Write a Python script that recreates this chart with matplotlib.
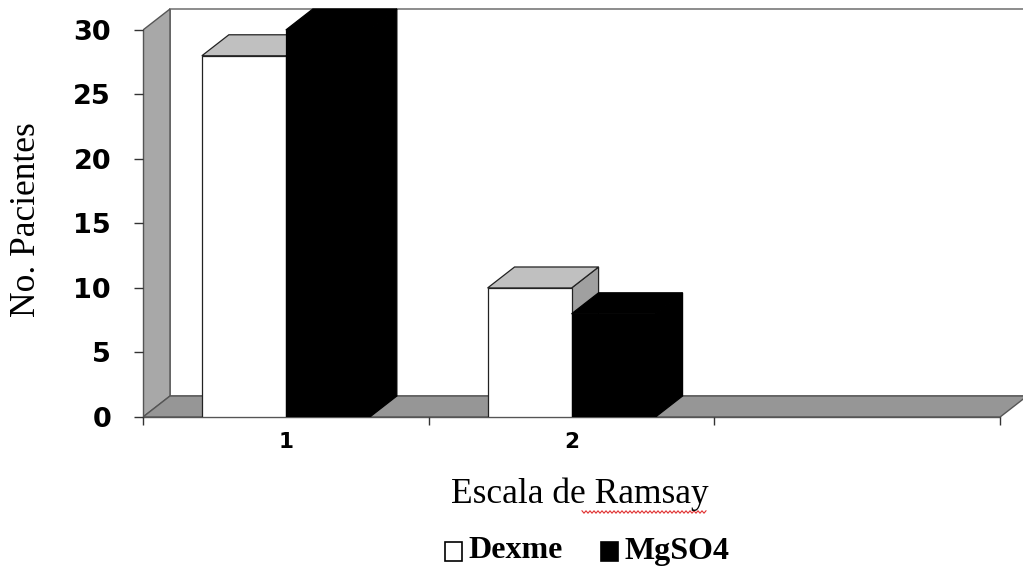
import numpy as np
import matplotlib
matplotlib.use("Agg")
import matplotlib.pyplot as plt
from matplotlib.patches import Polygon, Rectangle
from matplotlib.lines import Line2D
from matplotlib.legend_handler import HandlerPatch

# Patients per Ramsay sedation score, by drug
categories = ["1", "2", ""]
dexme = [28, 10, np.nan]
mgso4 = [32, 8, np.nan]
series_names = ["Dexme", "MgSO4"]
y_ticks = [0, 5, 10, 15, 20, 25, 30]

Y_MAX = 30
TICK_FONT = "DejaVu Sans"
SERIF = "Liberation Serif"

WALL = "#a8a8a8"
FLOOR = "#969696"
FRAME = "#555555"
TOP_LIGHT = "#c0c0c0"
SIDE_LIGHT = "#a0a0a0"

fig = plt.figure(figsize=(10.23, 5.67), dpi=100)
ax = fig.add_axes([143 / 1023, 150 / 567, 885.7 / 1023, 415.4 / 567])
n = len(categories)
ax.set_xlim(0, n + 0.1)
ax.set_ylim(0, 32.2)
ax.patch.set_visible(False)

# oblique depth of the 3-D box, 27 px right and 21 px up, expressed in data units
ox, oy = ax.transData.transform((0, 0))
DX, DY = ax.transData.inverted().transform((ox + 27, oy + 21))


def poly(pts, face, edge, z, lw=1.0):
    ax.add_patch(Polygon(pts, closed=True, facecolor=face, edgecolor=edge,
                         linewidth=lw, zorder=z, joinstyle="miter"))


# back wall, side wall and floor
poly([(DX, DY), (n + DX, DY), (n + DX, Y_MAX + DY), (DX, Y_MAX + DY)],
     "white", "#8c8c8c", 0.5, lw=1.4)
poly([(0, 0), (DX, DY), (DX, Y_MAX + DY), (0, Y_MAX)], WALL, FRAME, 0.6)
poly([(0, 0), (n, 0), (n + DX, DY), (DX, DY)], FLOOR, FRAME, 0.7)

bar_w = 0.294
series = [
    (dexme, "white", TOP_LIGHT, SIDE_LIGHT, "#222222"),
    (mgso4, "black", "black", "black", "black"),
]

z = 1.0
for i in range(n):
    center = i + 0.5
    for k, (vals, front, top, side, edge) in enumerate(series):
        v = vals[i]
        if np.isnan(v):
            continue
        h = min(v, Y_MAX)
        x0 = center - bar_w + k * bar_w
        x1 = x0 + bar_w
        poly([(x1, 0), (x1 + DX, DY), (x1 + DX, h + DY), (x1, h)], side, edge, z, lw=0.9)
        poly([(x0, h), (x1, h), (x1 + DX, h + DY), (x0 + DX, h + DY)], top, edge, z + 0.01, lw=0.9)
        ax.bar(x0, h, width=bar_w, align="edge", color=front, edgecolor=edge,
               linewidth=0.9, zorder=z + 0.02)
        z += 0.1

# axes
for s in ("top", "right"):
    ax.spines[s].set_visible(False)
ax.spines["left"].set_bounds(0, Y_MAX)
ax.spines["bottom"].set_bounds(0, n)
for s in ("left", "bottom"):
    ax.spines[s].set_color(FRAME)
    ax.spines[s].set_linewidth(1.0)
    ax.spines[s].set_zorder(0.8)

ax.set_yticks(y_ticks)
ax.set_yticklabels([str(t) for t in y_ticks], fontfamily=TICK_FONT, fontweight="bold", fontsize=19.5)
ax.tick_params(axis="y", direction="out", length=6.5, width=1, color="#333333", pad=16.5)

ax.set_xticks(range(n + 1))
ax.set_xticklabels([])
ax.tick_params(axis="x", which="major", direction="out", length=6, width=1, color="#333333")
ax.set_xticks([i + 0.5 for i in range(n)], minor=True)
ax.set_xticklabels(categories, minor=True, fontfamily=TICK_FONT, fontweight="bold", fontsize=15.5)
ax.tick_params(axis="x", which="minor", length=0, pad=11)

fig.text(27 / 1023, 1 - 220 / 567, "No. Pacientes", rotation=90, ha="center", va="center",
         fontfamily=SERIF, fontsize=25.5)
fig.text(580 / 1023, 1 - 494 / 567, "Escala de Ramsay", ha="center", va="center",
         fontfamily=SERIF, fontsize=25.5)

# spell-check underline under "Ramsay"
xs = np.arange(582, 708, 2.0)
ys = 567 - 512 + np.where(np.arange(len(xs)) % 2 == 0, 1.2, -1.2)
fig.add_artist(Line2D(xs / 1023, ys / 567, transform=fig.transFigure, color="#e03030", lw=0.8))


def baseline_square(legend, orig_handle, xdescent, ydescent, width, height, fontsize):
    # square sitting on the text baseline
    return Rectangle((-xdescent, -ydescent - 0.14 * fontsize), width, height)


handles = [Rectangle((0, 0), 1, 1, facecolor="white", edgecolor="black", linewidth=1.2),
           Rectangle((0, 0), 1, 1, facecolor="black", edgecolor="black", linewidth=1.2)]
fig.legend(handles, series_names, loc="center", bbox_to_anchor=(587 / 1023, 1 - 551 / 567),
           ncol=2, frameon=False, prop=dict(family=SERIF, weight="bold", size=23),
           handlelength=0.55, handleheight=0.55, handletextpad=0.18, columnspacing=1.2,
           borderpad=0, borderaxespad=0,
           handler_map={Rectangle: HandlerPatch(patch_func=baseline_square)})

fig.savefig("out.png", dpi=100)
